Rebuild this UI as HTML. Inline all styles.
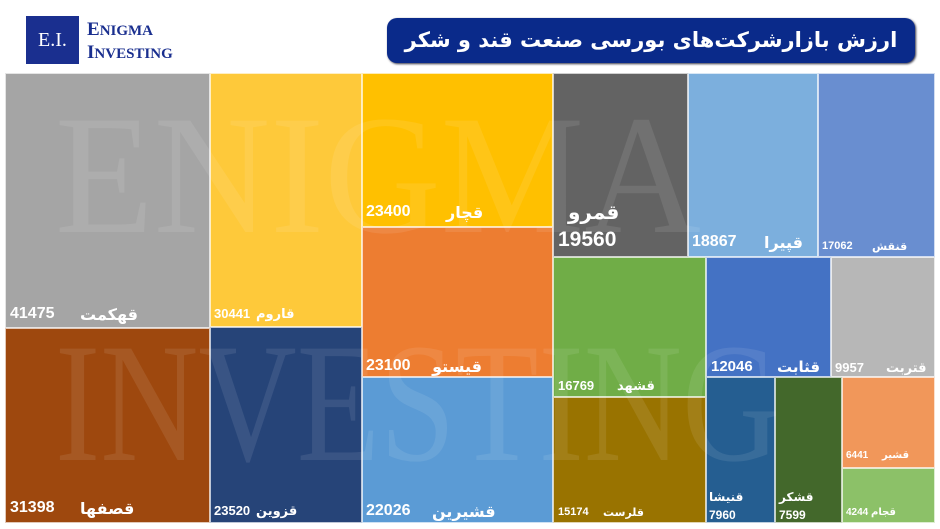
<!DOCTYPE html>
<html><head><meta charset="utf-8"><style>
*{margin:0;padding:0;box-sizing:border-box}
body{width:940px;height:529px;background:#fff;position:relative;overflow:hidden;font-family:"Liberation Sans","Noto Sans CJK SC",sans-serif}
.b{position:absolute;border:1px solid rgba(255,255,255,.7)}
.t{position:absolute;color:#fff;font-weight:bold;white-space:nowrap;font-family:"Liberation Sans","DejaVu Sans",sans-serif}
.wm{position:absolute;font-family:"Liberation Serif",serif;color:rgba(255,255,255,.09);font-size:170px;white-space:nowrap;line-height:1;transform-origin:0 0}
</style></head><body>
<div style="position:absolute;left:26px;top:16px;width:53px;height:48px;background:#1a2f8f;color:#fff;font-family:'Liberation Serif',serif;font-size:20px;line-height:48px;text-align:center">E.I.</div>
<div style="position:absolute;left:87px;top:19px;color:#1a2f8f;font-family:'Liberation Serif',serif;font-size:19px;line-height:21px;font-weight:bold">E<span style="font-size:15px">NIGMA</span><br>I<span style="font-size:15px">NVESTING</span></div>
<div style="position:absolute;left:387px;top:18px;width:528px;height:45px;background:#0a2a8a;border-radius:10px;box-shadow:1px 1px 2px #334;color:#fff;font-family:'DejaVu Sans',sans-serif;font-weight:bold;font-size:21px;line-height:45px;text-align:center;direction:rtl;white-space:nowrap">ارزش بازارشرکت‌های بورسی صنعت قند و شکر</div>

<div class="b" style="left:5px;top:73px;width:205px;height:255px;background:#a5a5a5"></div>
<div class="b" style="left:5px;top:328px;width:205px;height:195px;background:#9e480e"></div>
<div class="b" style="left:210px;top:73px;width:152px;height:254px;background:#fec93a"></div>
<div class="b" style="left:210px;top:327px;width:152px;height:196px;background:#264478"></div>
<div class="b" style="left:362px;top:73px;width:191px;height:154px;background:#ffc000"></div>
<div class="b" style="left:362px;top:227px;width:191px;height:150px;background:#ed7d31"></div>
<div class="b" style="left:362px;top:377px;width:191px;height:146px;background:#5b9bd5"></div>
<div class="b" style="left:553px;top:73px;width:135px;height:184px;background:#636363"></div>
<div class="b" style="left:688px;top:73px;width:130px;height:184px;background:#7cafdd"></div>
<div class="b" style="left:818px;top:73px;width:117px;height:184px;background:#698ed0"></div>
<div class="b" style="left:553px;top:257px;width:153px;height:140px;background:#70ad47"></div>
<div class="b" style="left:553px;top:397px;width:153px;height:126px;background:#997300"></div>
<div class="b" style="left:706px;top:257px;width:125px;height:120px;background:#4472c4"></div>
<div class="b" style="left:831px;top:257px;width:104px;height:120px;background:#b7b7b7"></div>
<div class="b" style="left:706px;top:377px;width:69px;height:146px;background:#255e91"></div>
<div class="b" style="left:775px;top:377px;width:67px;height:146px;background:#43682b"></div>
<div class="b" style="left:842px;top:377px;width:93px;height:91px;background:#f1975a"></div>
<div class="b" style="left:842px;top:468px;width:93px;height:55px;background:#8cc168"></div>

<div class="wm" style="left:55px;top:90px;transform:scaleX(0.95)">ENIGMA</div>
<div class="wm" style="left:55px;top:318px;transform:scaleX(0.8)">INVESTING</div>

<div class="t" style="left:10px;top:305px;font-size:16px">41475</div><div class="t" style="left:80px;top:305px;font-size:16px">قهکمت</div>
<div class="t" style="left:10px;top:499px;font-size:16px">31398</div><div class="t" style="left:80px;top:499px;font-size:16px">قصفها</div>
<div class="t" style="left:214px;top:306px;font-size:13px">30441</div><div class="t" style="left:256px;top:306px;font-size:13px">قاروم</div>
<div class="t" style="left:214px;top:503px;font-size:13px">23520</div><div class="t" style="left:256px;top:503px;font-size:13px">قزوین</div>
<div class="t" style="left:366px;top:203px;font-size:16px">23400</div><div class="t" style="left:446px;top:203px;font-size:16px">قچار</div>
<div class="t" style="left:366px;top:357px;font-size:16px">23100</div><div class="t" style="left:410px;top:357px;font-size:16px;direction:rtl;width:72px;text-align:right">قیستو</div>
<div class="t" style="left:366px;top:502px;font-size:16px">22026</div><div class="t" style="left:432px;top:502px;font-size:16px">قشیرین</div>
<div class="t" style="left:568px;top:200px;font-size:20px">قمرو</div><div class="t" style="left:558px;top:228px;font-size:21px">19560</div>
<div class="t" style="left:692px;top:233px;font-size:16px">18867</div><div class="t" style="left:764px;top:233px;font-size:16px">قپیرا</div>
<div class="t" style="left:822px;top:240px;font-size:11px">17062</div><div class="t" style="left:872px;top:240px;font-size:11px">قنقش</div>
<div class="t" style="left:558px;top:378px;font-size:13px">16769</div><div class="t" style="left:617px;top:378px;font-size:13px">قشهد</div>
<div class="t" style="left:558px;top:506px;font-size:11px">15174</div><div class="t" style="left:603px;top:506px;font-size:11px">قلرست</div>
<div class="t" style="left:711px;top:358px;font-size:15px">12046</div><div class="t" style="left:777px;top:358px;font-size:15px">قثابت</div>
<div class="t" style="left:835px;top:360px;font-size:13px">9957</div><div class="t" style="left:886px;top:360px;font-size:13px">قتربت</div>
<div class="t" style="left:709px;top:490px;font-size:12px">قنیشا</div><div class="t" style="left:709px;top:508px;font-size:12px">7960</div>
<div class="t" style="left:779px;top:490px;font-size:12px">قشکر</div><div class="t" style="left:779px;top:508px;font-size:12px">7599</div>
<div class="t" style="left:846px;top:450px;font-size:10px">6441</div><div class="t" style="left:882px;top:450px;font-size:10px">قشیر</div>
<div class="t" style="left:846px;top:507px;font-size:10px">قجام 4244</div>
</body></html>
